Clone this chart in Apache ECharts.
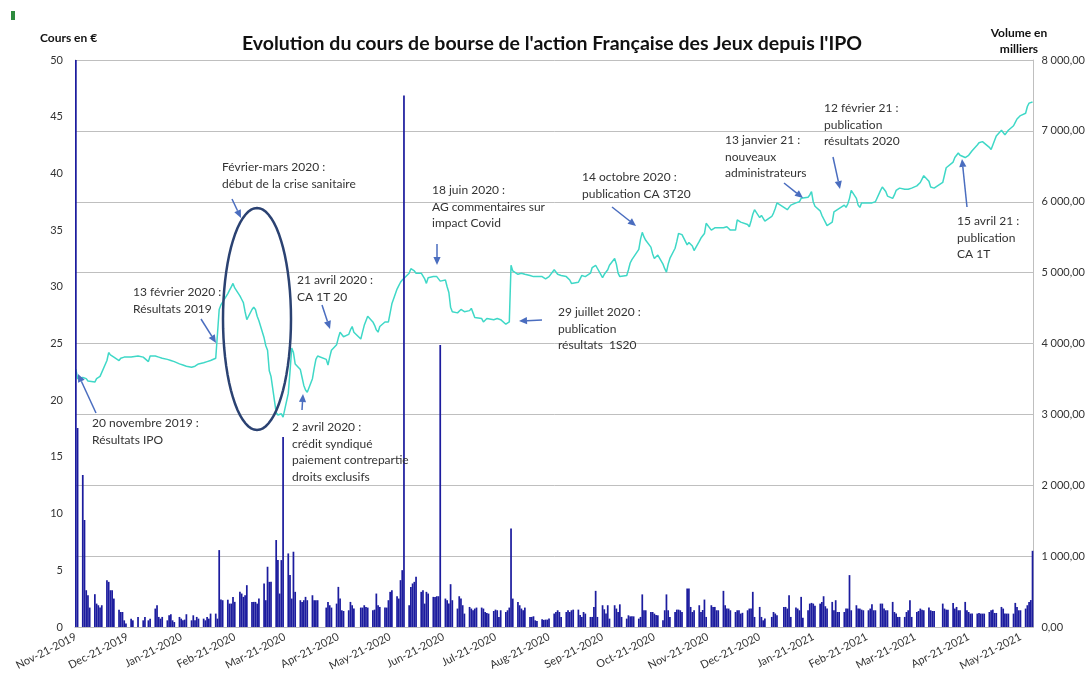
<!DOCTYPE html>
<html>
<head>
<meta charset="utf-8">
<script src="https://cdn.jsdelivr.net/npm/echarts@6/dist/echarts.min.js"></script>
<style>
  html, body { margin: 0; background: #fff; }
  #chart { width: 1088px; height: 678px; }
</style>
</head>
<body>
<div id="chart"></div>
<script>
// calendar range of the x axis (one category per day, weekends stay empty)
const firstDay = '2019-11-21';
const lastDay = '2021-05-28';
const monthNames = ['Jan', 'Feb', 'Mar', 'Apr', 'May', 'Jun', 'Jul', 'Aug', 'Sep', 'Oct', 'Nov', 'Dec'];

// closing price (EUR), one value per weekday, null = market closed
const price = [
  22.75, 21.9,
  22.0, 22.0, 21.9, 21.7, 21.6,
  21.6, 21.9, 22.0, 22.1, 22.1,
  23.5, 24.2, 24.0, 23.9, 23.8,
  23.5, 23.7, 23.8, 23.8, 23.8,
  23.8, 23.9, null, null, 23.9,
  23.8, 23.8, null, 23.4, 23.9,
  23.9, 23.8, 23.8, 23.8, 23.7,
  23.6, 23.6, 23.5, 23.4, 23.4,
  23.2, 23.2, 23.1, 23.0, 23.0,
  22.9, 22.9, 23.0, 23.1, 23.2,
  // feb 2020
  23.3, 23.3, 23.4, 23.5, 23.5,
  23.7, 23.7, 28.0, 28.4, 28.4,
  29.4, 29.7, 30.0, 30.3, 29.9,
  29.2, 28.9, 28.6, 27.8, 27.1,
  28.0, 28.2, 28.0, 27.4, 27.0,
  25.5, 24.8, 24.4, 22.6, 22.1,
  18.9, 18.7, 18.8, 18.8, 18.5,
  20.6, 22.5, 24.6, 24.2, 23.2,
  22.7, 22.0, 21.3, 20.9, 20.7,
  21.9, 22.8, 23.6, 23.9, null,
  // apr 2020
  null, 23.6, 23.1, 23.8, 24.4,
  24.9, 25.5, 26.0, 25.8, 25.6,
  25.8, 26.2, 26.5, 26.0, null,
  25.4, 26.0, 26.6, 27.0, 27.4,
  26.9, 26.6, 26.2, 26.0, 26.5,
  26.9, 26.9, 26.9, 27.0, 28.5,
  29.8, 30.1, 30.4, 30.6, 30.7,
  31.2, 31.6, 31.6, 31.4, 31.2,
  31.2, 31.2, 30.7, 30.3, 30.8,
  30.9, 30.9, 30.9, 30.7, 30.5,
  // jun 2020
  30.6, 30.0, 29.5, 28.2, 27.8,
  27.7, 27.8, 28.0, 27.9, 27.8,
  27.9, 28.1, 27.7, 27.3, 27.4,
  27.2, 26.9, 27.0, 27.2, 27.2,
  27.1, 27.1, 27.2, 27.2, 27.1,
  26.7, 26.8, 26.9, 31.9, 31.4,
  31.1, 31.2, 31.2, 31.2, 31.1,
  31.0, 31.0, 30.9, 30.9, 30.9,
  30.9, 30.8, 30.7, 30.8, 30.9,
  31.5, 31.3, 31.1, 31.0, 31.0,
  // sep 2020
  30.9, 30.8, 30.6, 30.3, 30.3,
  30.4, 30.7, 31.0, 31.0, 30.9,
  31.2, 31.7, 31.8, 31.9, 31.9,
  30.8, 31.1, 31.3, 31.5, 31.9,
  32.5, 32.0, 31.2, 30.9, 30.9,
  31.0, 31.5, 32.1, 32.4, 32.3,
  33.3, 34.2, 34.8, 34.4, 34.1,
  33.5, 32.9, 32.5, 32.6, 32.8,
  32.0, 31.6, 31.3, 32.0, 32.5,
  33.4, 34.0, 34.7, 34.7, 34.6,
  // nov 2020
  33.7, 33.9, 34.0, 33.6, 33.2,
  34.0, 34.3, 34.5, 34.7, 35.6,
  35.0, 35.1, 35.2, 35.3, 35.2,
  35.2, 35.3, 35.3, 35.2, 35.0,
  35.0, 35.9, 35.8, 35.7, 35.6,
  35.5, 35.3, 35.8, 36.4, 36.8,
  36.1, 36.3, 36.2, 35.8, null,
  36.2, 36.5, 36.9, 37.4, null,
  37.0, 36.9, 36.8, 37.0, 37.2,
  37.4, 37.5, 37.5, 37.8, 37.8,
  // jan 2021
  37.9, 38.1, 38.4, 37.5, 37.1,
  36.7, 36.3, 36.0, 35.7, 35.4,
  35.7, 36.6, 36.7, 36.8, 36.9,
  37.2, 37.0, 37.3, 37.8, 38.5,
  37.8, 37.2, 37.0, 37.4, 37.4,
  37.4, 37.4, 37.4, 37.4, 37.5,
  38.5, 38.8, 38.6, 38.4, 38.0,
  37.8, 38.1, 38.5, 38.6, 38.7,
  38.6, 38.6, 38.6, 38.7, 38.7,
  38.9, 39.0, 39.2, 39.5, 39.8,
  // mar-may 2021
  39.3, 38.8, 38.7, 38.7, null,
  null, 39.2, 39.3, 40.5, 40.6,
  41.0, 41.4, 41.6, 41.8, 41.6,
  41.4, 41.5, 41.6, 41.8, 42.0,
  42.5, 42.7, 42.8, 42.8, 42.7,
  42.3, 42.1, 42.5, 42.9, 43.3,
  43.8, 43.6, 43.4, 43.6, 43.8,
  44.2, 44.5, 44.8, 44.9, 45.1,
  45.3, 45.9, 46.2, 46.3, 46.3
];

// traded volume (thousands), same weekday order
const volume = [
  10500, 2808,
  2145, 1510, 519, 448, 274,
  463, 330, 307, 274, 307,
  661, 637, 519, 519, 401,
  245, 212, 212, 94, 50,
  118, 94, null, null, 142,
  94, 142, null, 94, 118,
  260, 307, 142, 118, 142,
  94, 165, 180, 94, 70,
  142, 118, 94, 104, 180,
  94, 165, 94, 142, 118,
  // feb 2020
  118, 94, 142, 118, 189,
  189, 118, 1085, 387, 378,
  385, 330, 330, 425, 355,
  496, 472, 425, 448, 590,
  354, 354, 354, 330, 401,
  614, 378, 850, 637, 637,
  1227, 944, 472, 944, 2680,
  1038, 732, 401, 1062, 496,
  378, 354, 378, 425, 378,
  448, 378, 378, 378, null,
  // apr 2020
  null, 274, 354, 307, 274,
  330, 566, 401, 236, 226,
  236, 354, 307, 260, null,
  274, 274, 307, 283, 274,
  236, 245, 472, 307, 283,
  274, 274, 378, 496, 519,
  434, 401, 661, 802, 7500,
  307, 566, 614, 637, 708,
  496, 519, 330, 496, 472,
  425, 425, 434, 434, 3980,
  // jun 2020
  401, 378, 330, 604, 378,
  260, 434, 401, 307, 189,
  283, 260, 236, 260, 274,
  274, 260, 212, 198, 189,
  226, 245, 236, 142, 236,
  212, 236, 274, 1390, 401,
  354, 307, 260, 236, 274,
  142, 142, 151, 94, 85,
  110, 100, 104, 104, 120,
  190, 212, 236, 212, 142,
  // sep 2020
  212, 236, 212, 236, 245,
  245, 170, 142, 212, 189,
  142, 142, 283, 510, 142,
  307, 250, 189, 307, 118,
  307, 260, 212, 320, 142,
  118, 165, 150, 150, 150,
  118, 142, 460, 236, 236,
  212, 212, 189, 170, 165,
  94, 236, 460, 236, 142,
  212, 245, 245, 236, 212,
  // nov 2020
  543, 543, 283, 212, 236,
  307, 212, 240, 387, 142,
  307, 283, 283, 236, 236,
  510, 307, 260, 260, 236,
  212, 236, 236, 189, 200,
  236, 260, 260, 496, 142,
  283, 142, 94, 120, null,
  142, 212, 190, 165, null,
  283, 283, 260, 448, 142,
  274, 260, 236, 425, 132,
  // jan 2021
  236, 330, 340, 330, 300,
  330, 354, 434, 293, 260,
  354, 236, 378, 212, 212,
  212, 260, 260, 732, 236,
  307, 260, 260, 245, 236,
  236, 260, 321, 236, 236,
  330, 330, 260, 236, 236,
  354, 212, 189, 142, 142,
  142, 212, 236, 378, 142,
  212, 226, 260, 245, 236,
  // mar-may 2021
  274, 236, 226, 226, null,
  null, 330, 260, 245, 245,
  340, 260, 283, 236, 236,
  354, 236, 212, 189, 189,
  189, 198, 189, 189, 189,
  212, 236, 245, 198, 198,
  283, 260, 189, 189, 189,
  189, 340, 283, 236, 236,
  260, 307, 354, 380, 1075
];

// build calendar days and weekdays
const days = [];
const weekdays = [];
const startT = Date.parse(firstDay + 'T00:00:00Z');
const endT = Date.parse(lastDay + 'T00:00:00Z');
for (let t = startT; t <= endT; t += 86400000) {
  const d = new Date(t);
  const s = d.toISOString().slice(0, 10);
  days.push(s);
  const wd = d.getUTCDay();
  if (wd !== 0 && wd !== 6) weekdays.push(s);
}

const priceByDay = {};
const volumeByDay = {};
weekdays.forEach((d, i) => {
  priceByDay[d] = price[i] === undefined ? null : price[i];
  volumeByDay[d] = volume[i] === undefined ? null : volume[i];
});
const priceSeries = days.map(d => (d in priceByDay ? priceByDay[d] : null));
const volumeSeries = days.map(d => (d in volumeByDay ? volumeByDay[d] : null));

function dayLabel(s) {
  const [y, m, d] = s.split('-');
  return monthNames[+m - 1] + '-' + d + '-' + y;
}

function frNumber(v) {
  const s = String(Math.round(v));
  return s.replace(/\B(?=(\d{3})+(?!\d))/g, ' ') + ',00';
}

// annotations (text blocks, arrows, circled crisis period)
const notes = [
  [92, 415, '20 novembre 2019 :\nRésultats IPO'],
  [133, 284, '13 février 2020 :\nRésultats 2019'],
  [222, 159, 'Février-mars 2020 :\ndébut de la crise sanitaire'],
  [297, 272, '21 avril 2020 :\nCA 1T 20'],
  [292, 419, '2 avril 2020 :\ncrédit syndiqué\npaiement contrepartie\ndroits exclusifs'],
  [432, 182, '18 juin 2020 :\nAG commentaires sur\nimpact Covid'],
  [558, 304, '29 juillet 2020 :\npublication\nrésultats  1S20'],
  [582, 169, '14 octobre 2020 :\npublication CA 3T20'],
  [725, 132, '13 janvier 21 :\nnouveaux\nadministrateurs'],
  [824, 100, '12 février 21 :\npublication\nrésultats 2020'],
  [957, 213, '15 avril 21 :\npublication\nCA 1T']
];
const arrows = [
  [96, 413, 78, 374],
  [201, 319, 216, 343],
  [232, 199, 241, 218],
  [322, 305, 330, 329],
  [302, 410, 303, 394],
  [437, 244, 437, 265],
  [542, 320, 519, 321],
  [612, 207, 636, 226],
  [784, 183, 803, 198],
  [833, 157, 840, 189],
  [967, 207, 962, 159]
];

const arrowColor = '#4A6DBF';
const graphics = [];

notes.forEach(([x, y, text]) => {
  graphics.push({
    type: 'text', left: x, top: y, z: 20,
    style: { text: text, fill: '#333', font: '12px Lato', lineHeight: 16.5 }
  });
});

arrows.forEach(([x1, y1, x2, y2]) => {
  const ang = Math.atan2(y2 - y1, x2 - x1);
  const len = 8, half = 3.6;
  const bx = x2 - len * Math.cos(ang), by = y2 - len * Math.sin(ang);
  graphics.push({
    type: 'line', z: 20,
    shape: { x1: x1, y1: y1, x2: bx, y2: by },
    style: { stroke: arrowColor, lineWidth: 1.5 }
  });
  graphics.push({
    type: 'polygon', z: 20,
    shape: { points: [
      [x2, y2],
      [bx + half * Math.sin(ang), by - half * Math.cos(ang)],
      [bx - half * Math.sin(ang), by + half * Math.cos(ang)]
    ] },
    style: { fill: arrowColor }
  });
});

// ellipse around the covid crash
const ellPts = [];
for (let a = 0; a < 72; a++) {
  const t = a / 72 * Math.PI * 2;
  ellPts.push([257 + 34 * Math.cos(t), 319 + 111 * Math.sin(t)]);
}
graphics.push({
  type: 'polygon', z: 20,
  shape: { points: ellPts },
  style: { fill: 'none', stroke: '#2B4272', lineWidth: 2.5 }
});

// titles
graphics.push({
  type: 'text', z: 20, x: 552, y: 44,
  style: { text: "Evolution du cours de bourse de l'action Française des Jeux depuis l'IPO",
    fill: '#111', font: 'bold 19.5px Lato', textAlign: 'center', textVerticalAlign: 'middle' }
});
graphics.push({
  type: 'text', z: 20, x: 40, y: 38,
  style: { text: 'Cours en €', fill: '#111', font: 'bold 12px Lato', textVerticalAlign: 'middle' }
});
graphics.push({
  type: 'text', z: 20, x: 1019, y: 41,
  style: { text: 'Volume en\nmilliers', fill: '#111', font: 'bold 12px Lato',
    textAlign: 'center', textVerticalAlign: 'middle', lineHeight: 16 }
});
graphics.push({
  type: 'rect', z: 20, shape: { x: 11, y: 11, width: 4, height: 9 },
  style: { fill: '#2E8B3E' }
});

const chart = echarts.init(document.getElementById('chart'));
chart.setOption({
  animation: false,
  backgroundColor: '#fff',
  grid: { left: 75, right: 53, top: 60, bottom: 51 },
  xAxis: {
    type: 'category',
    data: days,
    boundaryGap: true,
    axisLine: { lineStyle: { color: '#BFBFBF' } },
    axisTick: { show: false },
    axisLabel: {
      interval: (idx, val) => val.slice(8, 10) === '21',
      formatter: dayLabel,
      rotate: 27,
      margin: 9,
      color: '#333',
      fontFamily: 'Lato',
      fontSize: 11
    }
  },
  yAxis: [
    {
      type: 'value', min: 0, max: 50, interval: 5,
      axisLine: { show: true, lineStyle: { color: '#BFBFBF' } },
      axisTick: { show: false },
      splitLine: { show: false },
      axisLabel: { color: '#333', fontFamily: 'Lato', fontSize: 11, margin: 12 }
    },
    {
      type: 'value', min: 0, max: 8000, interval: 1000,
      position: 'right',
      axisLine: { show: true, lineStyle: { color: '#BFBFBF' } },
      axisTick: { show: false },
      splitLine: { show: true, lineStyle: { color: '#BFBFBF', width: 1 } },
      axisLabel: { color: '#333', fontFamily: 'Lato', fontSize: 11, margin: 8, formatter: frNumber }
    }
  ],
  series: [
    {
      name: 'Cours',
      type: 'line',
      yAxisIndex: 0,
      data: priceSeries,
      connectNulls: true,
      showSymbol: false,
      symbol: 'none',
      z: 2,
      lineStyle: { color: '#3FD8C7', width: 1.5 }
    },
    {
      name: 'Volume',
      type: 'bar',
      yAxisIndex: 1,
      data: volumeSeries,
      barCategoryGap: '0%',
      z: 3,
      itemStyle: { color: '#1C1C9E' }
    }
  ],
  graphic: graphics
});
</script>
</body>
</html>
